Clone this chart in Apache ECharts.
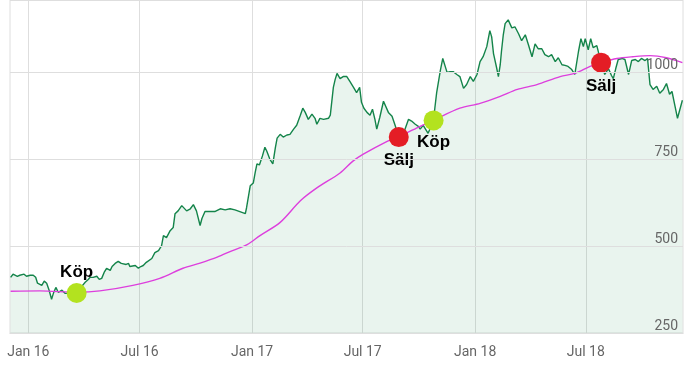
<!DOCTYPE html>
<html>
<head>
<meta charset="utf-8">
<script src="https://cdn.jsdelivr.net/npm/echarts@6/dist/echarts.min.js"></script>
<style>
html,body{margin:0;padding:0;background:#fff;}
#c{width:690px;height:384px;}
</style>
</head>
<body>
<div id="c"></div>
<script>
var priceDates = ['2015-12-03','2015-12-07','2015-12-14','2015-12-18','2015-12-25','2015-12-29','2016-01-04','2016-01-09','2016-01-13','2016-01-16','2016-01-23','2016-01-27','2016-01-31','2016-02-04','2016-02-08','2016-02-11','2016-02-15','2016-02-19','2016-02-25','2016-03-01','2016-03-06','2016-03-11','2016-03-20','2016-03-27','2016-04-03','2016-04-08','2016-04-11','2016-04-16','2016-04-22','2016-04-26','2016-04-30','2016-05-04','2016-05-08','2016-05-14','2016-05-17','2016-05-22','2016-05-27','2016-06-01','2016-06-04','2016-06-09','2016-06-13','2016-06-15','2016-06-18','2016-06-24','2016-06-29','2016-07-03','2016-07-07','2016-07-12','2016-07-15','2016-07-21','2016-07-26','2016-08-01','2016-08-06','2016-08-09','2016-08-14','2016-08-20','2016-08-25','2016-08-28','2016-09-02','2016-09-08','2016-09-11','2016-09-16','2016-09-22','2016-09-27','2016-10-02','2016-10-08','2016-10-11','2016-10-16','2016-10-24','2016-11-01','2016-11-10','2016-11-18','2016-11-26','2016-12-04','2016-12-12','2016-12-21','2016-12-23','2016-12-29','2017-01-03','2017-01-06','2017-01-09','2017-01-13','2017-01-18','2017-01-22','2017-01-25','2017-01-30','2017-02-04','2017-02-08','2017-02-11','2017-02-16','2017-02-21','2017-02-27','2017-03-04','2017-03-10','2017-03-15','2017-03-21','2017-03-25','2017-03-29','2017-04-03','2017-04-09','2017-04-14','2017-04-17','2017-04-22','2017-04-28','2017-05-06','2017-05-09','2017-05-14','2017-05-17','2017-05-20','2017-05-25','2017-05-30','2017-06-05','2017-06-10','2017-06-16','2017-06-21','2017-06-26','2017-06-29','2017-07-03','2017-07-08','2017-07-13','2017-07-17','2017-07-21','2017-07-24','2017-07-29','2017-08-04','2017-08-07','2017-08-12','2017-08-18','2017-08-23','2017-08-29','2017-09-07','2017-09-14','2017-09-19','2017-09-25','2017-09-30','2017-10-03','2017-10-08','2017-10-16','2017-10-25','2017-10-27','2017-10-30','2017-11-05','2017-11-09','2017-11-16','2017-11-21','2017-11-26','2017-12-02','2017-12-07','2017-12-13','2017-12-18','2017-12-24','2017-12-29','2018-01-04','2018-01-09','2018-01-14','2018-01-20','2018-01-25','2018-01-28','2018-01-31','2018-02-05','2018-02-08','2018-02-11','2018-02-13','2018-02-16','2018-02-19','2018-02-24','2018-03-02','2018-03-07','2018-03-13','2018-03-18','2018-03-24','2018-03-29','2018-04-04','2018-04-09','2018-04-14','2018-04-20','2018-04-25','2018-05-01','2018-05-06','2018-05-12','2018-05-17','2018-05-23','2018-05-28','2018-06-02','2018-06-08','2018-06-13','2018-06-19','2018-06-23','2018-06-27','2018-06-30','2018-07-05','2018-07-09','2018-07-13','2018-07-19','2018-07-26','2018-08-01','2018-08-07','2018-08-12','2018-08-15','2018-08-19','2018-08-23','2018-08-29','2018-09-03','2018-09-09','2018-09-14','2018-09-20','2018-09-25','2018-09-30','2018-10-06','2018-10-10','2018-10-14','2018-10-19','2018-10-25','2018-10-30','2018-11-05','2018-11-10','2018-11-15','2018-11-19','2018-11-24','2018-11-28','2018-12-02','2018-12-06'];
var priceValues = [410,419,413,416,419,413,416,416,410,393,387,399,393,373,347,364,381,367,373,364,364,359,364,381,396,404,410,410,413,404,407,424,436,430,441,450,456,450,453,447,450,441,436,444,436,441,444,453,450,464,481,487,501,530,524,544,553,593,601,616,621,601,607,619,601,559,579,599,599,599,607,604,607,604,599,593,610,673,681,710,736,733,759,784,773,750,736,781,810,821,813,819,821,836,847,876,896,884,864,879,867,850,867,864,867,876,956,979,996,981,987,987,973,956,941,956,913,896,884,876,893,864,836,870,916,916,884,873,847,813,830,864,859,850,844,836,847,824,861,896,941,1004,1039,999,1001,1001,993,987,953,964,987,973,993,1030,1044,1073,1119,1101,1053,1013,987,1021,1059,1107,1139,1150,1127,1130,1110,1090,1107,1079,1044,1081,1067,1067,1050,1044,1050,1030,1041,1021,1019,1016,1007,993,1059,1096,1073,1096,1064,1096,1070,1076,1027,993,1010,990,981,1010,1036,1039,1036,993,1033,1036,1030,1039,1033,1039,964,950,959,939,950,967,936,944,901,867,893,919];

var maDates = ['2015-12-03','2016-01-20','2016-03-21','2016-04-27','2016-06-20','2016-08-03','2016-09-10','2016-10-08','2016-11-05','2016-11-30','2016-12-24','2017-01-14','2017-02-16','2017-03-21','2017-04-17','2017-05-25','2017-06-15','2017-07-02','2017-08-10','2017-08-31','2017-10-03','2017-10-24','2017-12-07','2018-01-09','2018-02-11','2018-03-11','2018-04-12','2018-05-20','2018-06-13','2018-07-08','2018-07-26','2018-08-21','2018-09-16','2018-10-14','2018-11-10','2018-12-06'];
var maValues = [370,371,367,371,387,407,436,451,468,487,504,530,568,630,667,710,744,764,801,816,844,861,896,910,930,950,964,987,996,1016,1027,1039,1044,1047,1041,1027];

var buyDates = ['2016-03-20','2017-10-25'];
var buyValues = [365,861];
var sellDates = ['2017-08-29','2018-07-26'];
var sellValues = [813,1027];

var tickDates = ['2016-01-01','2016-07-01','2017-01-01','2017-07-01','2018-01-01','2018-07-01'];
var tickLabels = ['Jan 16','Jul 16','Jan 17','Jul 17','Jan 18','Jul 18'];
var yTicks = [250,500,750,1000];

function ts(s){ var p = s.split('-'); return Date.UTC(+p[0], +p[1]-1, +p[2]); }

var priceData = priceDates.map(function(d,i){ return [ts(d), priceValues[i]]; });
var maData = maDates.map(function(d,i){ return [ts(d), maValues[i]]; });
var tickTs = tickDates.map(ts);

var markerLabel = {
  show: true, color: '#000', fontSize: 17, fontWeight: 900,
  fontFamily: 'Liberation Sans, Arial, sans-serif'
};
var buyData = buyDates.map(function(d,i){
  return { value: [ts(d), buyValues[i]],
    label: Object.assign({}, markerLabel, { formatter: 'Köp', position: i === 0 ? 'top' : 'bottom', distance: i === 0 ? 2 : 3 }) };
});
var sellData = sellDates.map(function(d,i){
  return { value: [ts(d), sellValues[i]],
    label: Object.assign({}, markerLabel, { formatter: 'Sälj', position: 'bottom', distance: 5 }) };
});

var chart = echarts.init(document.getElementById('c'), null, { renderer: 'canvas' });
chart.setOption({
  animation: false,
  backgroundColor: '#fff',
  grid: { left: 10, right: 7, top: -2, bottom: 51, show: true, borderColor: '#dedede', borderWidth: 1 },
  xAxis: {
    type: 'value',
    min: ts('2015-12-02'),
    max: ts('2018-12-07'),
    axisLine: { show: true, lineStyle: { color: '#cfcfcf', width: 1 } },
    axisTick: { show: false, customValues: tickTs },
    axisLabel: {
      customValues: tickTs,
      color: '#666', fontSize: 14, fontFamily: 'Roboto, sans-serif', margin: 12,
      formatter: function(v){
        var i = tickTs.indexOf(v);
        return i >= 0 ? tickLabels[i] : '';
      }
    },
    splitLine: { show: true, lineStyle: { color: '#dedede', width: 1 } }
  },
  yAxis: {
    type: 'value',
    position: 'right',
    z: 10,
    min: 250, max: 1207, interval: 250,
    axisLine: { show: false },
    axisTick: { show: false },
    axisLabel: {
      inside: true, margin: 5, color: '#666', fontSize: 14, fontFamily: 'Roboto, sans-serif',
      verticalAlign: 'bottom', showMaxLabel: false,
      formatter: function(v){ return yTicks.indexOf(v) >= 0 ? String(v) : ''; }
    },
    splitLine: { show: true, lineStyle: { color: '#dedede', width: 1 } }
  },
  series: [
    {
      type: 'line', data: priceData, showSymbol: false, symbol: 'none',
      lineStyle: { color: '#14844a', width: 1.4 },
      areaStyle: { color: 'rgba(23,138,76,0.135)' },
      z: 2
    },
    {
      type: 'line', data: maData, showSymbol: false, symbol: 'none', smooth: 0.3,
      lineStyle: { color: '#dd3fdd', width: 1.4 },
      z: 3
    },
    {
      type: 'scatter', data: buyData, symbol: 'circle', symbolSize: 20,
      itemStyle: { color: '#b3e21f', opacity: 1 }, z: 5
    },
    {
      type: 'scatter', data: sellData, symbol: 'circle', symbolSize: 20,
      itemStyle: { color: '#e41d25', opacity: 1 }, z: 5
    }
  ]
});
</script>
</body>
</html>
